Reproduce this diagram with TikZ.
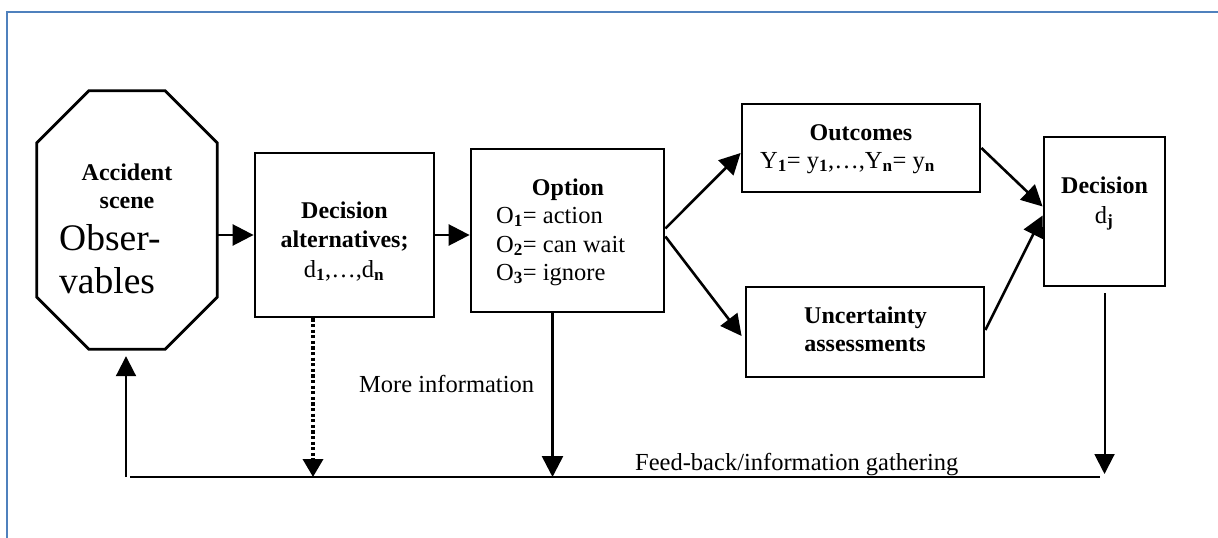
\documentclass[tikz,border=0pt]{standalone}
\usepackage{fontspec}
\setmainfont{Liberation Serif}
\usetikzlibrary{arrows.meta,calc}
\newcommand{\bsub}[1]{\textsubscript{\textbf{#1}}}
\definecolor{framec}{RGB}{79,129,189}
\tikzset{
  box/.style={draw=black, line width=2.8pt, inner sep=0pt},
  txt/.style={inner sep=0pt, font=\fontsize{24.5}{29}\selectfont},
  btxt/.style={inner sep=0pt, font=\fontsize{24}{29}\selectfont\bfseries},
  bigtxt/.style={inner sep=0pt, font=\fontsize{37.5}{43}\selectfont},
  arr/.style={draw=black, line width=2.6pt, -{Triangle[length=21pt,width=21pt]}},
  thinarr/.style={draw=black, line width=2pt, -{Triangle[length=20pt,width=20pt]}},
  dotarr/.style={draw=black, line width=3.6pt, dash pattern=on 3.2pt off 2.4pt, -{Triangle[length=18pt,width=20pt]}},
}
\begin{document}
\begin{tikzpicture}[x=1pt,y=-1pt]
\useasboundingbox (0,0) rectangle (1218,538);
\fill[white] (0,0) rectangle (1218,538);
% frame
\draw[framec, line width=2.4pt] (7,540) -- (7,12) -- (1220,12);

% nodes
\node[minimum width=180pt, minimum height=258pt, inner sep=0pt] (obs) at (127,220) {};
\draw[box, line join=miter]
  ($(obs.north west)+(0,52)$) -- ($(obs.north west)+(52,0)$) --
  ($(obs.north east)+(-52,0)$) -- ($(obs.north east)+(0,52)$) --
  ($(obs.south east)+(0,-52)$) -- ($(obs.south east)+(-52,0)$) --
  ($(obs.south west)+(52,0)$) -- ($(obs.south west)+(0,-52)$) -- cycle;

\node[box, minimum width=179pt, minimum height=164pt] (dalt) at (344.5,235) {};
\node[box, minimum width=193pt, minimum height=163pt] (opt) at (567.5,230.5) {};
\node[box, minimum width=238pt, minimum height=88pt] (out) at (861,148) {};
\node[box, minimum width=238pt, minimum height=90pt] (unc) at (865,332) {};
\node[box, minimum width=121pt, minimum height=149pt] (dec) at (1104.5,211.5) {};

% texts
\node[btxt, anchor=base] (obs1) at (127,180) {Accident};
\node[btxt, anchor=base] (obs2) at (127,208) {scene};
\node[bigtxt, anchor=base west] (obs3) at (59,250) {Obser-};
\node[bigtxt, anchor=base west] (obs4) at (59,293) {vables};

\node[btxt, anchor=base] (dalt1) at (344.5,218) {Decision};
\node[btxt, anchor=base] (dalt2) at (344.5,247) {alternatives;};
\node[txt, anchor=base] (dalt3) at (344,277) {d\bsub{1},…,d\bsub{n}};

\node[btxt, anchor=base] (opt1) at (568,195) {Option};
\node[txt, anchor=base west] (opt2) at (496,223) {O\bsub{1}= action};
\node[txt, anchor=base west] (opt3) at (496,252) {O\bsub{2}= can wait};
\node[txt, anchor=base west] (opt4) at (496,280) {O\bsub{3}= ignore};

\node[btxt, anchor=base] (out1) at (861,140) {Outcomes};
\node[txt, anchor=base west] (out2) at (760,168) {Y\bsub{1}= y\bsub{1},…,Y\bsub{n}= y\bsub{n}};

\node[btxt, anchor=base] (unc1) at (865.5,323) {Uncertainty};
\node[btxt, anchor=base] (unc2) at (865,351) {assessments};

\node[btxt, anchor=base] (dec1) at (1104.5,193) {Decision};
\node[txt, anchor=base] (dec2) at (1104,223) {d\bsub{j}};

\node[txt, anchor=base west] (more) at (359,392) {More information};
\node[txt, anchor=base west] (fbtxt) at (635,470) {Feed-back/information gathering};

% feedback line
\coordinate (fbL) at (130,477);
\coordinate (fbR) at (1100,477);
\draw[line width=2.6pt] (fbL) -- (fbR);

% connectors
\draw[arr] (obs.east |- dalt.west) -- (dalt.west);
\draw[arr] (dalt.east) -- (opt.west |- dalt.east);
\draw[arr] ([yshift=2pt]opt.east) -- ([yshift=-5pt]out.west);
\draw[arr] ([yshift=-6pt]opt.east) -- ([xshift=-3pt,yshift=-4pt]unc.west);
\draw[arr] (out.east) -- ([yshift=5pt]dec.west);
\draw[arr] ([yshift=2pt]unc.east) -- ([yshift=-4pt]dec.west);
\draw[arr] ([xshift=-15pt]opt.south) coordinate (o1) -- (o1 |- fbL);
\draw[dotarr] ([xshift=-31.5pt]dalt.south) coordinate (d1) -- (d1 |- fbL);
\draw[thinarr] ([yshift=-6pt]dec.south) coordinate (e1) -- ([yshift=3pt]e1 |- fbR);
\draw[thinarr] ([xshift=-4pt]fbL) -- ([xshift=-1pt,yshift=-7pt]obs.south);
\end{tikzpicture}
\end{document}
